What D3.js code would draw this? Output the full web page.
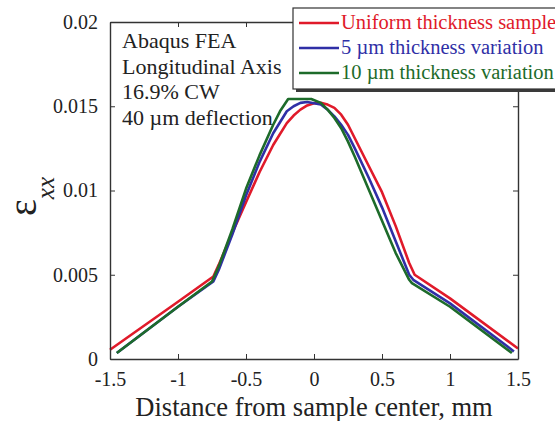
<!DOCTYPE html>
<html>
<head>
<meta charset="utf-8">
<script src="https://cdn.jsdelivr.net/npm/d3@7"></script>
<style>
  html, body { margin: 0; padding: 0; background: #fff; }
  svg { display: block; font-family: "Liberation Serif", "Times New Roman", serif; }
</style>
</head>
<body>
<svg id="chart" width="555" height="421"></svg>
<script>
// Strain along the longitudinal axis (Abaqus FEA), three thickness cases
const uniformX = [-1.5, -1.0, -0.74, -0.7, -0.6, -0.5, -0.4, -0.3, -0.2, -0.15, -0.1, -0.05, 0.0, 0.05, 0.1, 0.15, 0.2, 0.25, 0.3, 0.4, 0.5, 0.6, 0.7, 0.74, 1.0, 1.5];
const uniformY = [0.00055, 0.0034, 0.0049, 0.0056, 0.0075, 0.0093, 0.0111, 0.0127, 0.0140, 0.01445, 0.0148, 0.01505, 0.01518, 0.0152, 0.0151, 0.0149, 0.0145, 0.0139, 0.0131, 0.0115, 0.0099, 0.0079, 0.0057, 0.0050, 0.0036, 0.00062];

const var5X = [-1.45, -1.0, -0.74, -0.7, -0.6, -0.5, -0.4, -0.3, -0.2, -0.15, -0.1, -0.05, 0.05, 0.1, 0.15, 0.2, 0.25, 0.3, 0.4, 0.5, 0.6, 0.7, 0.73, 1.0, 1.47];
const var5Y = [0.00036, 0.0031, 0.0046, 0.0053, 0.0074, 0.0097, 0.0117, 0.0134, 0.0147, 0.0150, 0.0152, 0.01525, 0.0151, 0.0148, 0.0144, 0.0139, 0.0133, 0.0125, 0.0108, 0.0090, 0.0070, 0.0050, 0.0047, 0.0033, 0.00045];

const var10X = [-1.45, -1.0, -0.75, -0.7, -0.6, -0.5, -0.4, -0.3, -0.25, -0.19, -0.02, 0.05, 0.1, 0.15, 0.2, 0.25, 0.3, 0.4, 0.5, 0.6, 0.7, 0.72, 1.0, 1.455];
const var10Y = [0.00036, 0.0031, 0.0046, 0.0055, 0.0077, 0.0101, 0.0121, 0.0139, 0.0147, 0.01543, 0.01543, 0.0152, 0.0148, 0.0143, 0.0137, 0.0129, 0.0120, 0.0101, 0.0082, 0.0063, 0.0047, 0.0045, 0.0031, 0.00036];

const seriesNames = ["Uniform thickness sample", "5 \u00b5m thickness variation", "10 \u00b5m thickness variation"];
const seriesColors = ["#e01a2a", "#2f2fa6", "#1d6b2a"];

const xTicks = [-1.5, -1, -0.5, 0, 0.5, 1, 1.5];
const yTicks = [0, 0.005, 0.01, 0.015, 0.02];
const notes = ["Abaqus FEA", "Longitudinal Axis", "16.9% CW", "40 \u00b5m deflection"];

const series = [
  { name: seriesNames[0], color: seriesColors[0], pts: uniformX.map((x, i) => [x, uniformY[i]]) },
  { name: seriesNames[1], color: seriesColors[1], pts: var5X.map((x, i) => [x, var5Y[i]]) },
  { name: seriesNames[2], color: seriesColors[2], pts: var10X.map((x, i) => [x, var10Y[i]]) }
];

const svg = d3.select("#chart");
const L = 110, R = 518, T = 22, B = 359;
const x = d3.scaleLinear().domain([-1.5, 1.5]).range([L, R]);
const y = d3.scaleLinear().domain([0, 0.02]).range([B, T]);
const axisColor = "#333";

// curves
const line = d3.line().x(d => x(d[0])).y(d => y(d[1])).curve(d3.curveLinear);
svg.append("g").selectAll("path").data(series).join("path")
  .attr("d", d => line(d.pts))
  .attr("fill", "none")
  .attr("stroke", d => d.color)
  .attr("stroke-width", 2.6)
  .attr("stroke-linejoin", "round");

// axes with inward ticks on all four sides
const fmtX = d => d === 0 ? "0" : String(d);
const fmtY = d => d === 0 ? "0" : String(+d.toFixed(3));
const axBottom = svg.append("g").attr("transform", `translate(0,${B})`)
  .call(d3.axisBottom(x).tickValues(xTicks).tickSizeInner(-5).tickSizeOuter(0).tickPadding(27).tickFormat(fmtX));
const axTop = svg.append("g").attr("transform", `translate(0,${T})`)
  .call(d3.axisTop(x).tickValues(xTicks).tickSizeInner(-5).tickSizeOuter(0).tickFormat(""));
const axLeft = svg.append("g").attr("transform", `translate(${L},0)`)
  .call(d3.axisLeft(y).tickValues(yTicks).tickSizeInner(-5).tickSizeOuter(0).tickPadding(12).tickFormat(fmtY));
const axRight = svg.append("g").attr("transform", `translate(${R},0)`)
  .call(d3.axisRight(y).tickValues(yTicks).tickSizeInner(-5).tickSizeOuter(0).tickFormat(""));

[axBottom, axTop, axLeft, axRight].forEach(g => {
  g.selectAll("path.domain").attr("stroke", axisColor).attr("stroke-width", 1.4);
  g.selectAll(".tick line").attr("stroke", axisColor).attr("stroke-width", 1);
  g.selectAll("text").attr("fill", "#222").attr("font-size", 20)
    .attr("font-family", "'Liberation Serif', 'Times New Roman', serif");
});
axBottom.selectAll("text").attr("dy", "0");

// axis titles
svg.append("text")
  .attr("x", (L + R) / 2).attr("y", 416)
  .attr("text-anchor", "middle")
  .attr("font-size", 26.5).attr("fill", "#222")
  .text("Distance from sample center, mm");

const yl = svg.append("text")
  .attr("transform", "translate(36,216) rotate(-90)")
  .attr("fill", "#222");
yl.append("tspan").attr("font-size", 40).text("\u03b5");
yl.append("tspan").attr("font-size", 25).attr("font-style", "italic").attr("dy", 18).text("xx");

// annotation block
svg.append("g").selectAll("text").data(notes).join("text")
  .attr("x", 122).attr("y", (d, i) => 48 + i * 25.5)
  .attr("font-size", 22).attr("fill", "#222")
  .text(d => d);

// legend with drop shadow
const lg = svg.append("g");
lg.append("rect").attr("x", 296).attr("y", 11).attr("width", 280).attr("height", 81).attr("fill", "#3a3a3a");
lg.append("rect").attr("x", 293).attr("y", 8).attr("width", 280).attr("height", 81)
  .attr("fill", "#fff").attr("stroke", axisColor).attr("stroke-width", 1.2);
const rows = lg.selectAll("g.row").data(series).join("g").attr("class", "row")
  .attr("transform", (d, i) => `translate(0,${29 + i * 25})`);
rows.append("line").attr("x1", 299).attr("x2", 339).attr("y1", -6).attr("y2", -6)
  .attr("stroke", d => d.color).attr("stroke-width", 2.4);
rows.append("text").attr("x", 341).attr("y", 0)
  .attr("font-size", 20.5).attr("fill", d => d.color)
  .text(d => d.name);
</script>
</body>
</html>
